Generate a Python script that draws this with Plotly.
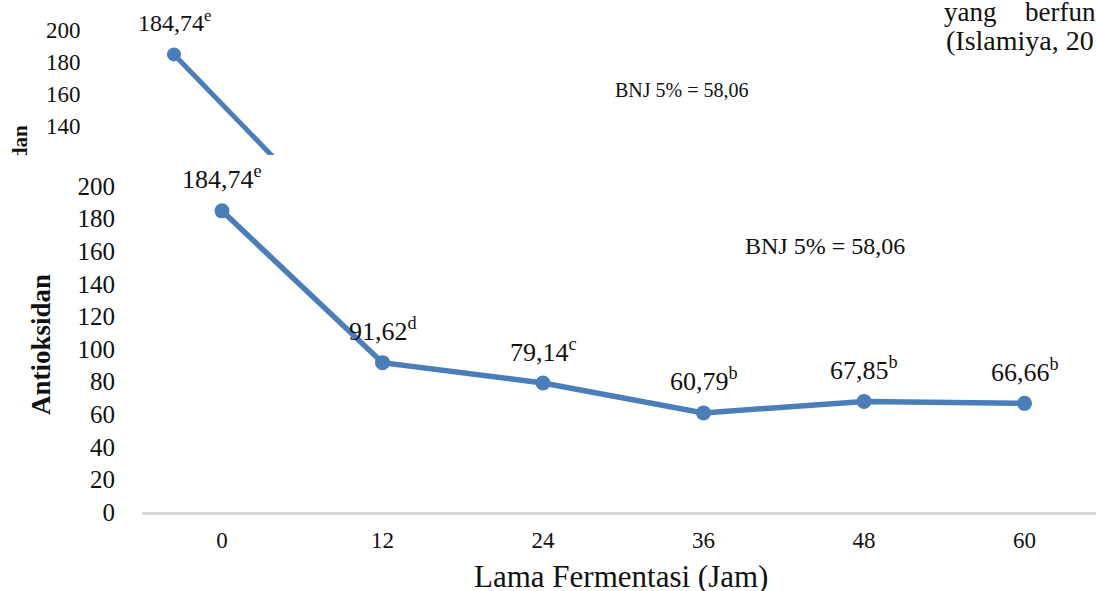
import plotly.graph_objects as go

# Lama fermentasi (jam) dan kadar antioksidan
hours = [0, 12, 24, 36, 48, 60]
antioksidan = [184.74, 91.62, 79.14, 60.79, 67.85, 66.66]
notasi = ["e", "d", "c", "b", "b", "b"]
y_ticks = [0, 20, 40, 60, 80, 100, 120, 140, 160, 180, 200]
strip_ticks = [140, 160, 180, 200]
bnj_text = "BNJ 5% = 58,06"
x_title = "Lama Fermentasi (Jam)"
y_title = "Antioksidan"

W, H = 1096, 591
SERIF = "Liberation Serif, Times New Roman, serif"
BLUE = "#4A7EBB"
INK = "#111111"

# upper strip geometry (pixels): hour 0 at x=174, 12 px per hour; 200 at y=30, 1.6 px per unit
S_X0, S_DX, S_Y200, S_DY = 174, 12.0, 30, 1.6


def fx(p):
    return p / W


def fy(p):
    return 1 - p / H


def sx(p):
    return (p - S_X0) / S_DX


def sy(p):
    return 200 - (p - S_Y200) / S_DY


def fmt(v):
    return f"{v:.2f}".replace(".", ",")


labels = [f"{fmt(v)}<sup>{n}</sup>" for v, n in zip(antioksidan, notasi)]

fig = go.Figure()

# --- upper strip: top edge of the same figure, cut off below ---
fig.add_trace(go.Scatter(
    x=hours, y=antioksidan, mode="lines+markers",
    line=dict(color=BLUE, width=5), marker=dict(size=14, color=BLUE),
    xaxis="x", yaxis="y", cliponaxis=True, hoverinfo="skip",
))
# rotated axis caption of the strip, clipped by the strip's plot area
fig.add_trace(go.Bar(
    x=[sx(20)], y=[sy(122)], base=[0], width=[2.2],
    text=[y_title], textposition="inside", textangle=-90,
    insidetextanchor="end", constraintext="none",
    textfont=dict(family=SERIF, size=21, color=INK, weight="bold"),
    marker=dict(color="rgba(0,0,0,0)", line=dict(width=0)),
    xaxis="x", yaxis="y", cliponaxis=True, hoverinfo="skip",
))

# --- main chart ---
fig.add_trace(go.Scatter(
    x=hours, y=antioksidan, mode="lines+markers",
    line=dict(color=BLUE, width=5.5), marker=dict(size=15, color=BLUE),
    xaxis="x2", yaxis="y2", cliponaxis=False, hoverinfo="skip",
))


def note(x, y, text, size, **kw):
    d = dict(x=fx(x), y=fy(y), xref="paper", yref="paper", text=text,
             showarrow=False, xanchor="center", yanchor="middle",
             font=dict(family=SERIF, size=size, color=INK))
    d.update(kw)
    return d


def strip_note(x, y, text, size, **kw):
    d = dict(x=sx(x), y=sy(y), xref="x", yref="y", text=text,
             showarrow=False, xanchor="left", yanchor="middle",
             font=dict(family=SERIF, size=size, color=INK))
    d.update(kw)
    return d


annotations = []
for h, v, t in zip(hours, antioksidan, labels):
    annotations.append(dict(
        x=h, y=v, xref="x2", yref="y2", text=t, showarrow=False,
        xanchor="center", yanchor="middle",
        yshift=33, font=dict(family=SERIF, size=26, color=INK),
    ))
annotations.append(dict(
    x=hours[0], y=antioksidan[0], xref="x", yref="y", text=labels[0],
    showarrow=False, xanchor="center", yanchor="middle",
    yshift=33, font=dict(family=SERIF, size=24, color=INK),
))
annotations += [
    note(825, 246, bnj_text, 24),
    note(682, 90, bnj_text, 20),
    note(41, 345, f"<b>{y_title}</b>", 27, textangle=-90),
    note(621, 576, x_title, 31),
    # running text of the page beside the figure
    strip_note(942, 12, "yang", 27),
    strip_note(1023, 12, "berfungsi", 27),
    strip_note(944, 40, "(Islamiya, 20", 28),
]

fig.update_layout(
    width=W, height=H, autosize=False,
    margin=dict(l=0, r=0, t=0, b=0),
    paper_bgcolor="white", plot_bgcolor="white",
    showlegend=False, template="none",
    font=dict(family=SERIF, color=INK),
    annotations=annotations,
    xaxis=dict(
        domain=[0, 1], anchor="y", range=[sx(0), sx(W)],
        visible=False, showgrid=False, zeroline=False, fixedrange=True,
    ),
    yaxis=dict(
        domain=[fy(155), 1], anchor="x", range=[sy(155), sy(0)],
        tickvals=strip_ticks, ticks="", ticklabelposition="inside",
        ticklabelstandoff=43, tickfont=dict(family=SERIF, size=23, color=INK),
        showgrid=False, zeroline=False, showline=False, fixedrange=True,
        automargin=False,
    ),
    xaxis2=dict(
        domain=[fx(142), 1], anchor="y2", range=[-80 / 13.375, (W - 222) / 13.375],
        tickvals=hours, ticks="", ticklabelstandoff=6,
        tickfont=dict(family=SERIF, size=23, color=INK),
        showline=True, linecolor="#D9D9D9", linewidth=2.5,
        showgrid=False, zeroline=False, fixedrange=True, automargin=False,
    ),
    yaxis2=dict(
        domain=[fy(512), fy(155)], anchor="x2", range=[0, (512 - 155) / 1.63],
        tickvals=y_ticks, ticks="", ticklabelstandoff=26,
        tickfont=dict(family=SERIF, size=25, color=INK),
        showline=False, showgrid=False, zeroline=False, fixedrange=True,
        automargin=False,
    ),
)

fig.write_html("out.html")
